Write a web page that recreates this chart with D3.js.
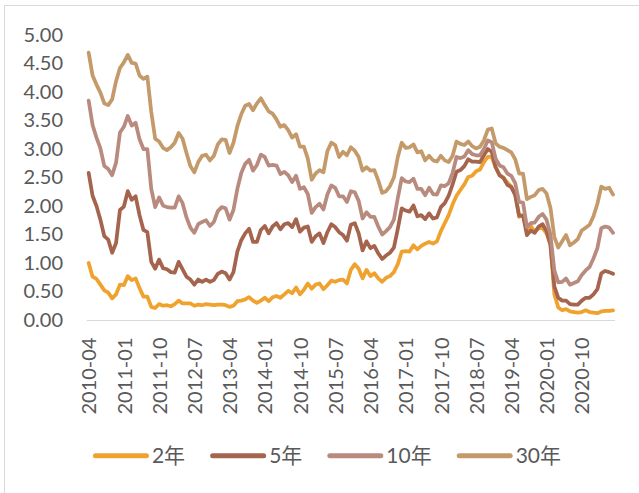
<!DOCTYPE html>
<html>
<head>
<meta charset="utf-8">
<script src="https://cdn.jsdelivr.net/npm/d3@7"></script>
<style>
  html, body { margin: 0; padding: 0; background: #fff; }
  svg { display: block; }
  text { font-family: Lato, "Noto Sans CJK SC", sans-serif; fill: #595959; }
</style>
</head>
<body>
<svg id="chart" width="639" height="493"></svg>
<script>
// ---- data (monthly, 2010-04 .. 2021-06) ----
const seriesNames = ["2年", "5年", "10年", "30年"];
const seriesColors = ["#F0A22E", "#A5644E", "#B98B7F", "#C49A6A"];

const y2 = [1.00,0.76,0.72,0.62,0.52,0.48,0.38,0.45,0.62,
  0.61,0.77,0.70,0.73,0.56,0.41,0.41,0.23,0.21,0.28,0.25,0.26,
  0.24,0.28,0.34,0.29,0.29,0.29,0.25,0.27,0.26,0.28,0.27,0.26,
  0.27,0.27,0.26,0.23,0.25,0.33,0.34,0.36,0.40,0.34,0.30,0.34,
  0.39,0.33,0.40,0.42,0.39,0.45,0.51,0.47,0.57,0.45,0.53,0.64,
  0.55,0.62,0.64,0.54,0.61,0.69,0.67,0.70,0.71,0.64,0.88,0.98,
  0.90,0.73,0.88,0.77,0.82,0.73,0.67,0.74,0.77,0.84,0.98,1.20,
  1.21,1.20,1.31,1.24,1.30,1.34,1.37,1.34,1.38,1.56,1.70,1.84,
  2.03,2.18,2.28,2.38,2.51,2.53,2.61,2.64,2.77,2.86,2.86,2.68,
  2.54,2.50,2.41,2.34,2.21,1.81,1.84,1.57,1.65,1.55,1.61,1.61,
  1.52,1.33,0.45,0.22,0.17,0.19,0.15,0.14,0.13,0.14,0.17,0.14,
  0.13,0.12,0.15,0.16,0.16,0.17];

const y5 = [2.58,2.18,2.00,1.76,1.47,1.41,1.18,1.35,1.93,
  1.99,2.26,2.11,2.17,1.84,1.58,1.54,1.02,0.90,1.06,0.91,0.89,
  0.84,0.83,1.02,0.89,0.76,0.71,0.62,0.71,0.67,0.71,0.67,0.70,
  0.81,0.85,0.82,0.71,0.84,1.20,1.40,1.52,1.60,1.37,1.37,1.58,
  1.65,1.52,1.64,1.70,1.59,1.68,1.70,1.63,1.77,1.55,1.62,1.64,
  1.37,1.47,1.52,1.35,1.54,1.68,1.63,1.54,1.49,1.39,1.67,1.70,
  1.52,1.22,1.38,1.26,1.30,1.17,1.07,1.13,1.18,1.27,1.60,1.96,
  1.92,1.90,2.01,1.82,1.84,1.77,1.87,1.78,1.80,1.98,2.05,2.18,
  2.38,2.60,2.63,2.70,2.82,2.78,2.78,2.77,2.89,3.00,2.95,2.68,
  2.54,2.49,2.37,2.33,2.19,1.83,1.83,1.49,1.57,1.53,1.64,1.68,
  1.56,1.32,0.59,0.39,0.34,0.34,0.28,0.27,0.27,0.34,0.39,0.39,
  0.45,0.54,0.82,0.86,0.84,0.81];

const y10 = [3.85,3.42,3.20,3.01,2.70,2.65,2.54,2.76,3.29,
  3.39,3.58,3.41,3.46,3.17,3.00,3.00,2.30,1.98,2.15,2.01,1.98,
  1.97,1.97,2.17,2.05,1.80,1.62,1.53,1.68,1.72,1.75,1.65,1.72,
  1.91,1.98,1.96,1.76,1.93,2.30,2.58,2.74,2.81,2.62,2.72,2.90,
  2.86,2.71,2.72,2.71,2.56,2.60,2.54,2.42,2.53,2.30,2.33,2.21,
  1.88,1.98,2.04,1.94,2.20,2.36,2.32,2.17,2.17,2.07,2.26,2.24,
  2.09,1.78,1.89,1.81,1.81,1.64,1.50,1.56,1.63,1.76,2.14,2.49,
  2.43,2.42,2.48,2.30,2.30,2.19,2.32,2.21,2.20,2.36,2.35,2.40,
  2.58,2.86,2.84,2.87,2.98,2.91,2.89,2.89,3.00,3.15,3.12,2.83,
  2.71,2.68,2.57,2.53,2.40,2.07,2.06,1.63,1.70,1.71,1.81,1.86,
  1.76,1.50,0.87,0.66,0.67,0.73,0.62,0.65,0.68,0.79,0.87,0.93,
  1.08,1.26,1.61,1.64,1.62,1.53];

const y30 = [4.69,4.29,4.13,3.99,3.80,3.77,3.87,4.19,4.42,
  4.52,4.65,4.51,4.50,4.29,4.23,4.27,3.65,3.18,3.13,3.02,2.98,
  3.03,3.11,3.28,3.18,2.93,2.70,2.59,2.77,2.88,2.90,2.80,2.88,
  3.08,3.17,3.16,2.93,3.11,3.40,3.61,3.76,3.79,3.68,3.80,3.89,
  3.77,3.66,3.62,3.52,3.39,3.42,3.33,3.20,3.26,3.04,3.04,2.83,
  2.46,2.57,2.63,2.59,2.96,3.11,3.07,2.86,2.95,2.89,3.03,2.97,
  2.86,2.62,2.68,2.62,2.63,2.45,2.23,2.26,2.35,2.50,2.86,3.11,
  3.02,3.03,3.08,2.94,2.96,2.80,2.88,2.80,2.78,2.88,2.80,2.77,
  2.88,3.13,3.09,3.07,3.13,3.05,3.01,3.04,3.15,3.34,3.36,3.10,
  3.04,3.02,2.98,2.94,2.82,2.57,2.57,2.12,2.16,2.19,2.28,2.30,
  2.22,1.97,1.46,1.27,1.38,1.49,1.31,1.36,1.42,1.57,1.62,1.67,
  1.82,2.04,2.34,2.30,2.32,2.20];

const tickLabels = ["2010-04","2011-01","2011-10","2012-07","2013-04","2014-01","2014-10",
  "2015-07","2016-04","2017-01","2017-10","2018-07","2019-04","2020-01","2020-10"];
const yTicks = [0, 0.5, 1, 1.5, 2, 2.5, 3, 3.5, 4, 4.5, 5];

// categories: one per month
const fmt = d3.timeFormat("%Y-%m");
const months = d3.timeMonths(new Date(2010, 3, 1), new Date(2021, 6, 1)).map(fmt);
const allSeries = [y2, y5, y10, y30];

// ---- layout ----
const svg = d3.select("#chart");
const plotLeft = 86.7, plotRight = 615, plotTop = 35, plotBottom = 320;

svg.append("rect").attr("x", 0).attr("y", 0).attr("width", 639).attr("height", 493).attr("fill", "#fff");
svg.append("rect").attr("x", 4.5).attr("y", 5.5).attr("width", 700).attr("height", 600)
  .attr("fill", "none").attr("stroke", "#D9D9D9").attr("stroke-width", 1);

const x = d3.scalePoint().domain(months).range([plotLeft, plotRight]).padding(0.5);
const y = d3.scaleLinear().domain([0, 5]).range([plotBottom, plotTop]);

// y axis (labels only)
const yAxis = svg.append("g").attr("transform", `translate(63,0)`)
  .call(d3.axisLeft(y).tickValues(yTicks).tickFormat(d3.format(".2f")).tickSize(0).tickPadding(0));
yAxis.select(".domain").remove();
yAxis.selectAll("text").attr("font-size", 20).attr("font-family", "Lato, sans-serif").attr("fill", "#595959");

// x axis
const xAxis = svg.append("g").attr("transform", `translate(0,${plotBottom})`)
  .call(d3.axisBottom(x).tickValues(tickLabels).tickSize(0));
xAxis.select(".domain").remove();
xAxis.append("line").attr("x1", plotLeft).attr("x2", plotRight).attr("y1", 0.5).attr("y2", 0.5)
  .attr("stroke", "#D9D9D9").attr("stroke-width", 1);
xAxis.selectAll(".tick text")
  .attr("font-size", 20).attr("font-family", "Lato, sans-serif").attr("fill", "#595959")
  .attr("transform", "rotate(-90)")
  .attr("text-anchor", "end")
  .attr("x", -17.5).attr("y", 0).attr("dy", "0.36em");

// lines
const line = d3.line().x((d, i) => x(months[i])).y(d => y(d)).curve(d3.curveLinear);
svg.append("g").selectAll("path").data(allSeries).join("path")
  .attr("d", line)
  .attr("fill", "none")
  .attr("stroke", (d, i) => seriesColors[i])
  .attr("stroke-width", 3.75)
  .attr("stroke-linejoin", "round")
  .attr("stroke-linecap", "round");

// legend
const legend = svg.append("g").attr("transform", "translate(0,455.7)");
const items = [];
seriesNames.forEach((name, i) => {
  const g = legend.append("g");
  g.append("line").attr("x1", 2.5).attr("x2", 53.5).attr("y1", 0).attr("y2", 0)
    .attr("stroke", seriesColors[i]).attr("stroke-width", 5).attr("stroke-linecap", "round");
  const t = g.append("text").attr("x", 59).attr("y", 0).attr("dy", "0.36em")
    .attr("font-size", 21).attr("font-weight", 400).attr("fill", "#595959").text(name);
  const w = 59 + t.node().getComputedTextLength();
  items.push({ g, w });
});
const gap = 25;
const total = d3.sum(items, d => d.w) + gap * (items.length - 1);
let start = 327 - total / 2;
items.forEach(it => { it.g.attr("transform", `translate(${start},0)`); start += it.w + gap; });
</script>
</body>
</html>
